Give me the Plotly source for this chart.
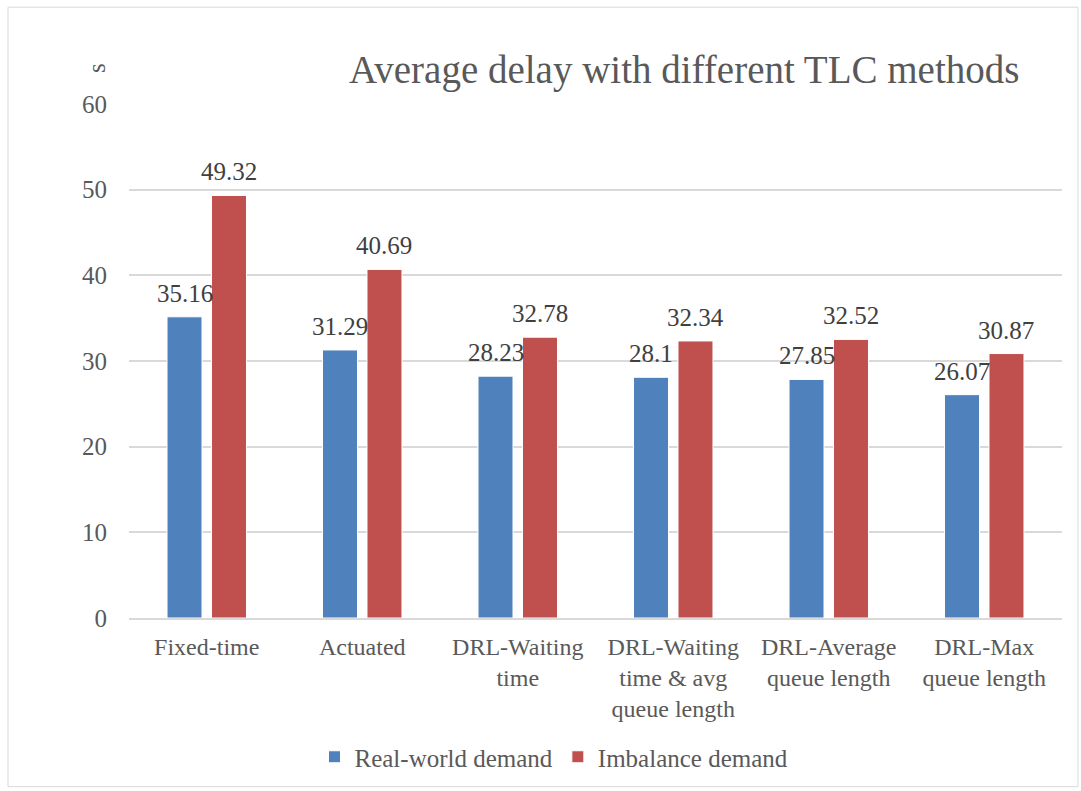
import plotly.graph_objects as go

# Data
categories = [
    "Fixed-time",
    "Actuated",
    "DRL-Waiting<br>time",
    "DRL-Waiting<br>time &amp; avg<br>queue length",
    "DRL-Average<br>queue length",
    "DRL-Max<br>queue length",
]
real_world = [35.16, 31.29, 28.23, 28.1, 27.85, 26.07]
imbalance = [49.32, 40.69, 32.78, 32.34, 32.52, 30.87]
y_ticks = [0, 10, 20, 30, 40, 50, 60]

# Canvas / plot-area geometry (pixels)
W, H = 1081, 791
L, R, T, B = 129, 19, 104, 172
PW, PH = W - L - R, H - T - B

def px_x(x):
    return (x - L) / PW

def px_y(y):
    return (H - B - y) / PH

FONT = "Liberation Serif"
AXIS_GRAY = "#595959"
LABEL_GRAY = "#404040"
BAR_W = 0.225      # bar width in category units
HALF_SEP = 0.143   # distance of each bar centre from the category centre

xs = list(range(len(categories)))

series = [
    ("Real-world demand", real_world, "#4F81BD", -HALF_SEP),
    ("Imbalance demand", imbalance, "#C0504D", HALF_SEP),
]

fig = go.Figure()
annotations = []
for name, vals, color, shift in series:
    fig.add_trace(go.Bar(
        name=name, x=xs, y=vals,
        width=BAR_W, offset=shift - BAR_W / 2,
        marker=dict(color=color, line=dict(color="white", width=1)),
        hoverinfo="x+y+name",
    ))
    for x, v in zip(xs, vals):
        annotations.append(dict(
            text=f"{v:g}", x=x + shift, y=v, xref="x", yref="y",
            xanchor="center", yanchor="bottom", yshift=8, showarrow=False,
            font=dict(family=FONT, size=25, color=LABEL_GRAY),
        ))

annotations += [
    dict(text="Average delay with different TLC methods",
         xref="paper", yref="paper", x=px_x(684), y=px_y(70),
         xanchor="center", yanchor="middle", showarrow=False,
         font=dict(family=FONT, size=39, color=AXIS_GRAY)),
    dict(text="s", textangle=-90,
         xref="paper", yref="paper", x=px_x(96), y=px_y(68),
         xanchor="center", yanchor="middle", showarrow=False,
         font=dict(family=FONT, size=25, color=AXIS_GRAY)),
]

fig.update_layout(
    width=W, height=H,
    margin=dict(l=L, r=R, t=T, b=B),
    paper_bgcolor="white", plot_bgcolor="white",
    barmode="overlay",
    font=dict(family=FONT, size=24, color=AXIS_GRAY),
    showlegend=True,
    legend=dict(
        orientation="h", x=px_x(554), xanchor="center",
        y=px_y(757), yanchor="middle",
        font=dict(family=FONT, size=25, color=AXIS_GRAY),
    ),
    xaxis=dict(
        range=[-0.5, len(categories) - 0.5],
        tickvals=xs, ticktext=categories,
        showgrid=False, showline=True, linecolor="#D9D9D9", linewidth=2,
        zeroline=False, ticks="",
        tickfont=dict(family=FONT, size=24, color=AXIS_GRAY),
        ticklabelstandoff=6,
    ),
    yaxis=dict(
        range=[0, 60], tickvals=y_ticks, showgrid=True,
        gridcolor="#D9D9D9", gridwidth=2, zeroline=False, showline=False,
        ticks="", tickfont=dict(family=FONT, size=25, color=AXIS_GRAY),
        ticklabelstandoff=21,
    ),
    annotations=annotations,
    shapes=[
        dict(type="rect", xref="paper", yref="paper",
             x0=px_x(8), x1=px_x(1078), y0=px_y(788), y1=px_y(7),
             line=dict(color="#D9D9D9", width=1), layer="below"),
    ],
)

fig.write_html("out.html")
